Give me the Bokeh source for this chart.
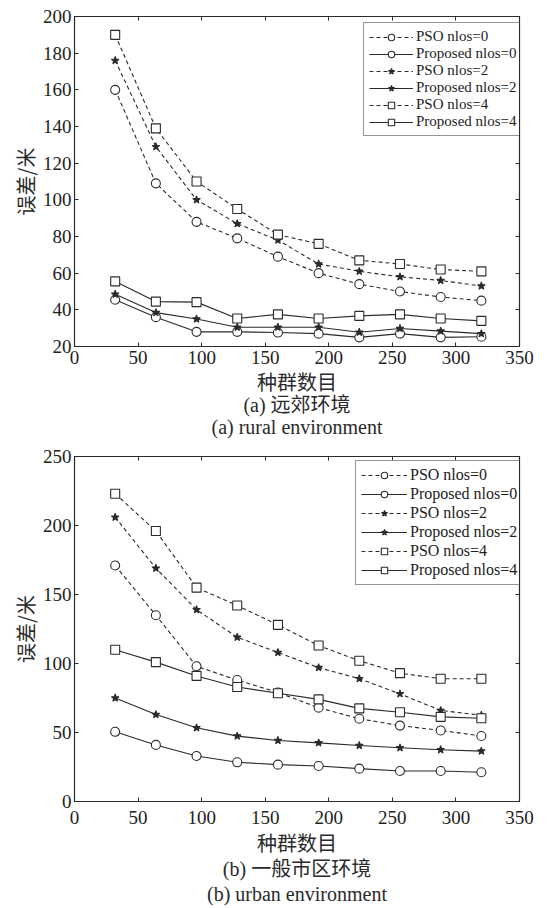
from bokeh.plotting import figure
from bokeh.models import Range1d, LinearAxis, FixedTicker
from bokeh.layouts import column
from bokeh.embed import file_html
from bokeh.resources import INLINE

pop = [32, 64, 96, 128, 160, 192, 224, 256, 288, 320]

rural_pso0 = [160, 109, 88, 79, 69, 60, 54, 50, 47, 45]
rural_prop0 = [45.5, 36, 28, 28, 27.6, 27, 25, 27, 25, 25.3]
rural_pso2 = [176, 129, 100, 87, 78, 65, 61, 58, 56, 53]
rural_prop2 = [48.5, 38.5, 35, 30.5, 30.5, 30.5, 27.8, 29.8, 28.4, 27]
rural_pso4 = [190, 139, 110, 95, 81, 76, 67, 65, 62, 61]
rural_prop4 = [55.5, 44.5, 44.2, 35.3, 37.5, 35.3, 36.7, 37.5, 35.3, 34]

urban_pso0 = [171, 135, 98, 88, 79, 68, 60, 55, 51.5, 47.5]
urban_prop0 = [50.5, 41, 33, 28.4, 26.7, 25.7, 23.8, 22.1, 22.1, 21.2]
urban_pso2 = [206, 169, 139, 119, 108, 97, 89, 78, 66, 62.5]
urban_prop2 = [75, 63, 53.4, 47.4, 44.2, 42.5, 40.6, 38.9, 37.5, 36.5]
urban_pso4 = [223, 196, 155, 142, 128, 113, 102, 93, 89, 89]
urban_prop4 = [110, 101, 91, 83, 78.4, 74, 67.5, 64.7, 61.3, 60.3]

labels = ["PSO nlos=0", "Proposed nlos=0", "PSO nlos=2",
          "Proposed nlos=2", "PSO nlos=4", "Proposed nlos=4"]
x_ticks = [0, 50, 100, 150, 200, 250, 300, 350]
rural_y_ticks = [20, 40, 60, 80, 100, 120, 140, 160, 180, 200]
urban_y_ticks = [0, 50, 100, 150, 200, 250]

x_label = "种群数目"
y_label = "误差/米"
rural_caps = ["(a) 远郊环境", "(a) rural environment"]
urban_caps = ["(b) 一般市区环境", "(b) urban environment"]

INK = "#2a2a2a"
SERIF = "'Liberation Serif', 'Noto Sans CJK SC', serif"
CJK = "'Noto Sans CJK SC', sans-serif"


def make_plot(series, yr, yticks, caps, width, height, bl, bt, fw,
              leg_loc, leg_font, leg_lh, leg_sp, leg_gw,
              tick_so, lab_so, cap_lh):
    p = figure(width=width, height=height, output_backend="svg",
               toolbar_location=None, x_range=Range1d(0, 350),
               y_range=Range1d(*yr), min_border_left=bl, min_border_top=bt,
               min_border_right=width - bl - fw, min_border_bottom=0)
    p.xgrid.visible = False
    p.ygrid.visible = False
    p.outline_line_color = INK
    p.outline_line_width = 1.2
    p.background_fill_color = "white"
    p.border_fill_color = "white"

    styles = [
        ("circle", "dashed", "white", 9),
        ("circle", "solid", "white", 9),
        ("star", "dashed", INK, 8),
        ("star", "solid", INK, 8),
        ("square", "dashed", "white", 9),
        ("square", "solid", "white", 9),
    ]
    for ys, lab, (mk, dash, fill, sz) in zip(series, labels, styles):
        p.line(pop, ys, line_color=INK, line_width=1.1,
               line_dash="4 3" if dash == "dashed" else "solid",
               legend_label=lab)
        p.scatter(pop, ys, marker=mk, size=sz, line_color=INK,
                  fill_color=fill, line_width=1.1, legend_label=lab)

    for ax in (p.xaxis[0], p.yaxis[0]):
        ax.major_tick_in = 4
        ax.major_tick_out = 0
        ax.minor_tick_line_color = None
        ax.axis_line_color = INK
        ax.major_tick_line_color = INK
        ax.major_label_text_font = SERIF
        ax.major_label_text_font_size = "19px"
        ax.major_label_text_color = "#222222"
        ax.axis_label_text_font_size = "20px"
        ax.axis_label_text_font_style = "normal"
        ax.axis_label_text_color = "#2a2a2a"
    p.xaxis.ticker = FixedTicker(ticks=x_ticks)
    p.yaxis.ticker = FixedTicker(ticks=yticks)
    # x label plus the two caption lines beneath it
    p.xaxis.axis_label = "\n".join([x_label] + caps)
    p.xaxis.axis_label_text_font = SERIF
    p.xaxis.axis_label_text_line_height = cap_lh
    p.yaxis.axis_label = y_label
    p.yaxis.axis_label_text_font = CJK
    p.xaxis.major_label_standoff = tick_so
    p.xaxis.axis_label_standoff = lab_so
    p.yaxis.major_label_standoff = 3
    p.yaxis.axis_label_standoff = 0

    # box ticks on the top and right sides (minor ticks carry no labels)
    for loc, tks in (("above", x_ticks), ("right", yticks)):
        ax = LinearAxis(ticker=FixedTicker(ticks=[], minor_ticks=tks),
                        major_label_standoff=0, major_tick_in=0,
                        major_tick_out=0, minor_tick_in=4,
                        minor_tick_out=0, axis_line_color=INK,
                        minor_tick_line_color=INK)
        if loc == "right":
            p.extra_y_ranges = {"r": p.y_range}
            ax.y_range_name = "r"
        p.add_layout(ax, loc)

    lg = p.legend[0]
    lg.location = leg_loc
    lg.label_text_font = SERIF
    lg.label_text_font_size = leg_font
    lg.label_text_color = "#222222"
    lg.glyph_width = leg_gw
    lg.glyph_height = leg_lh
    lg.label_height = leg_lh
    lg.label_standoff = 3
    lg.spacing = leg_sp
    lg.padding = 5
    lg.border_line_color = INK
    lg.border_line_width = 1.1
    lg.background_fill_alpha = 1.0
    return p


p1 = make_plot([rural_pso0, rural_prop0, rural_pso2, rural_prop2,
                rural_pso4, rural_prop4], (20, 200), rural_y_ticks,
               rural_caps, 539, 440, 74, 16, 448, (289, 210), "15px", 16,
               0, 44, 4, 5, 1.0)
p2 = make_plot([urban_pso0, urban_prop0, urban_pso2, urban_prop2,
                urban_pso4, urban_prop4], (0, 250), urban_y_ticks,
               urban_caps, 539, 468, 69, 16, 450, (281, 216), "16px", 16,
               1, 46, 9, 6, 1.15)

layout = column(p1, p2, spacing=0)
open("out.html", "w").write(file_html(layout, INLINE))
